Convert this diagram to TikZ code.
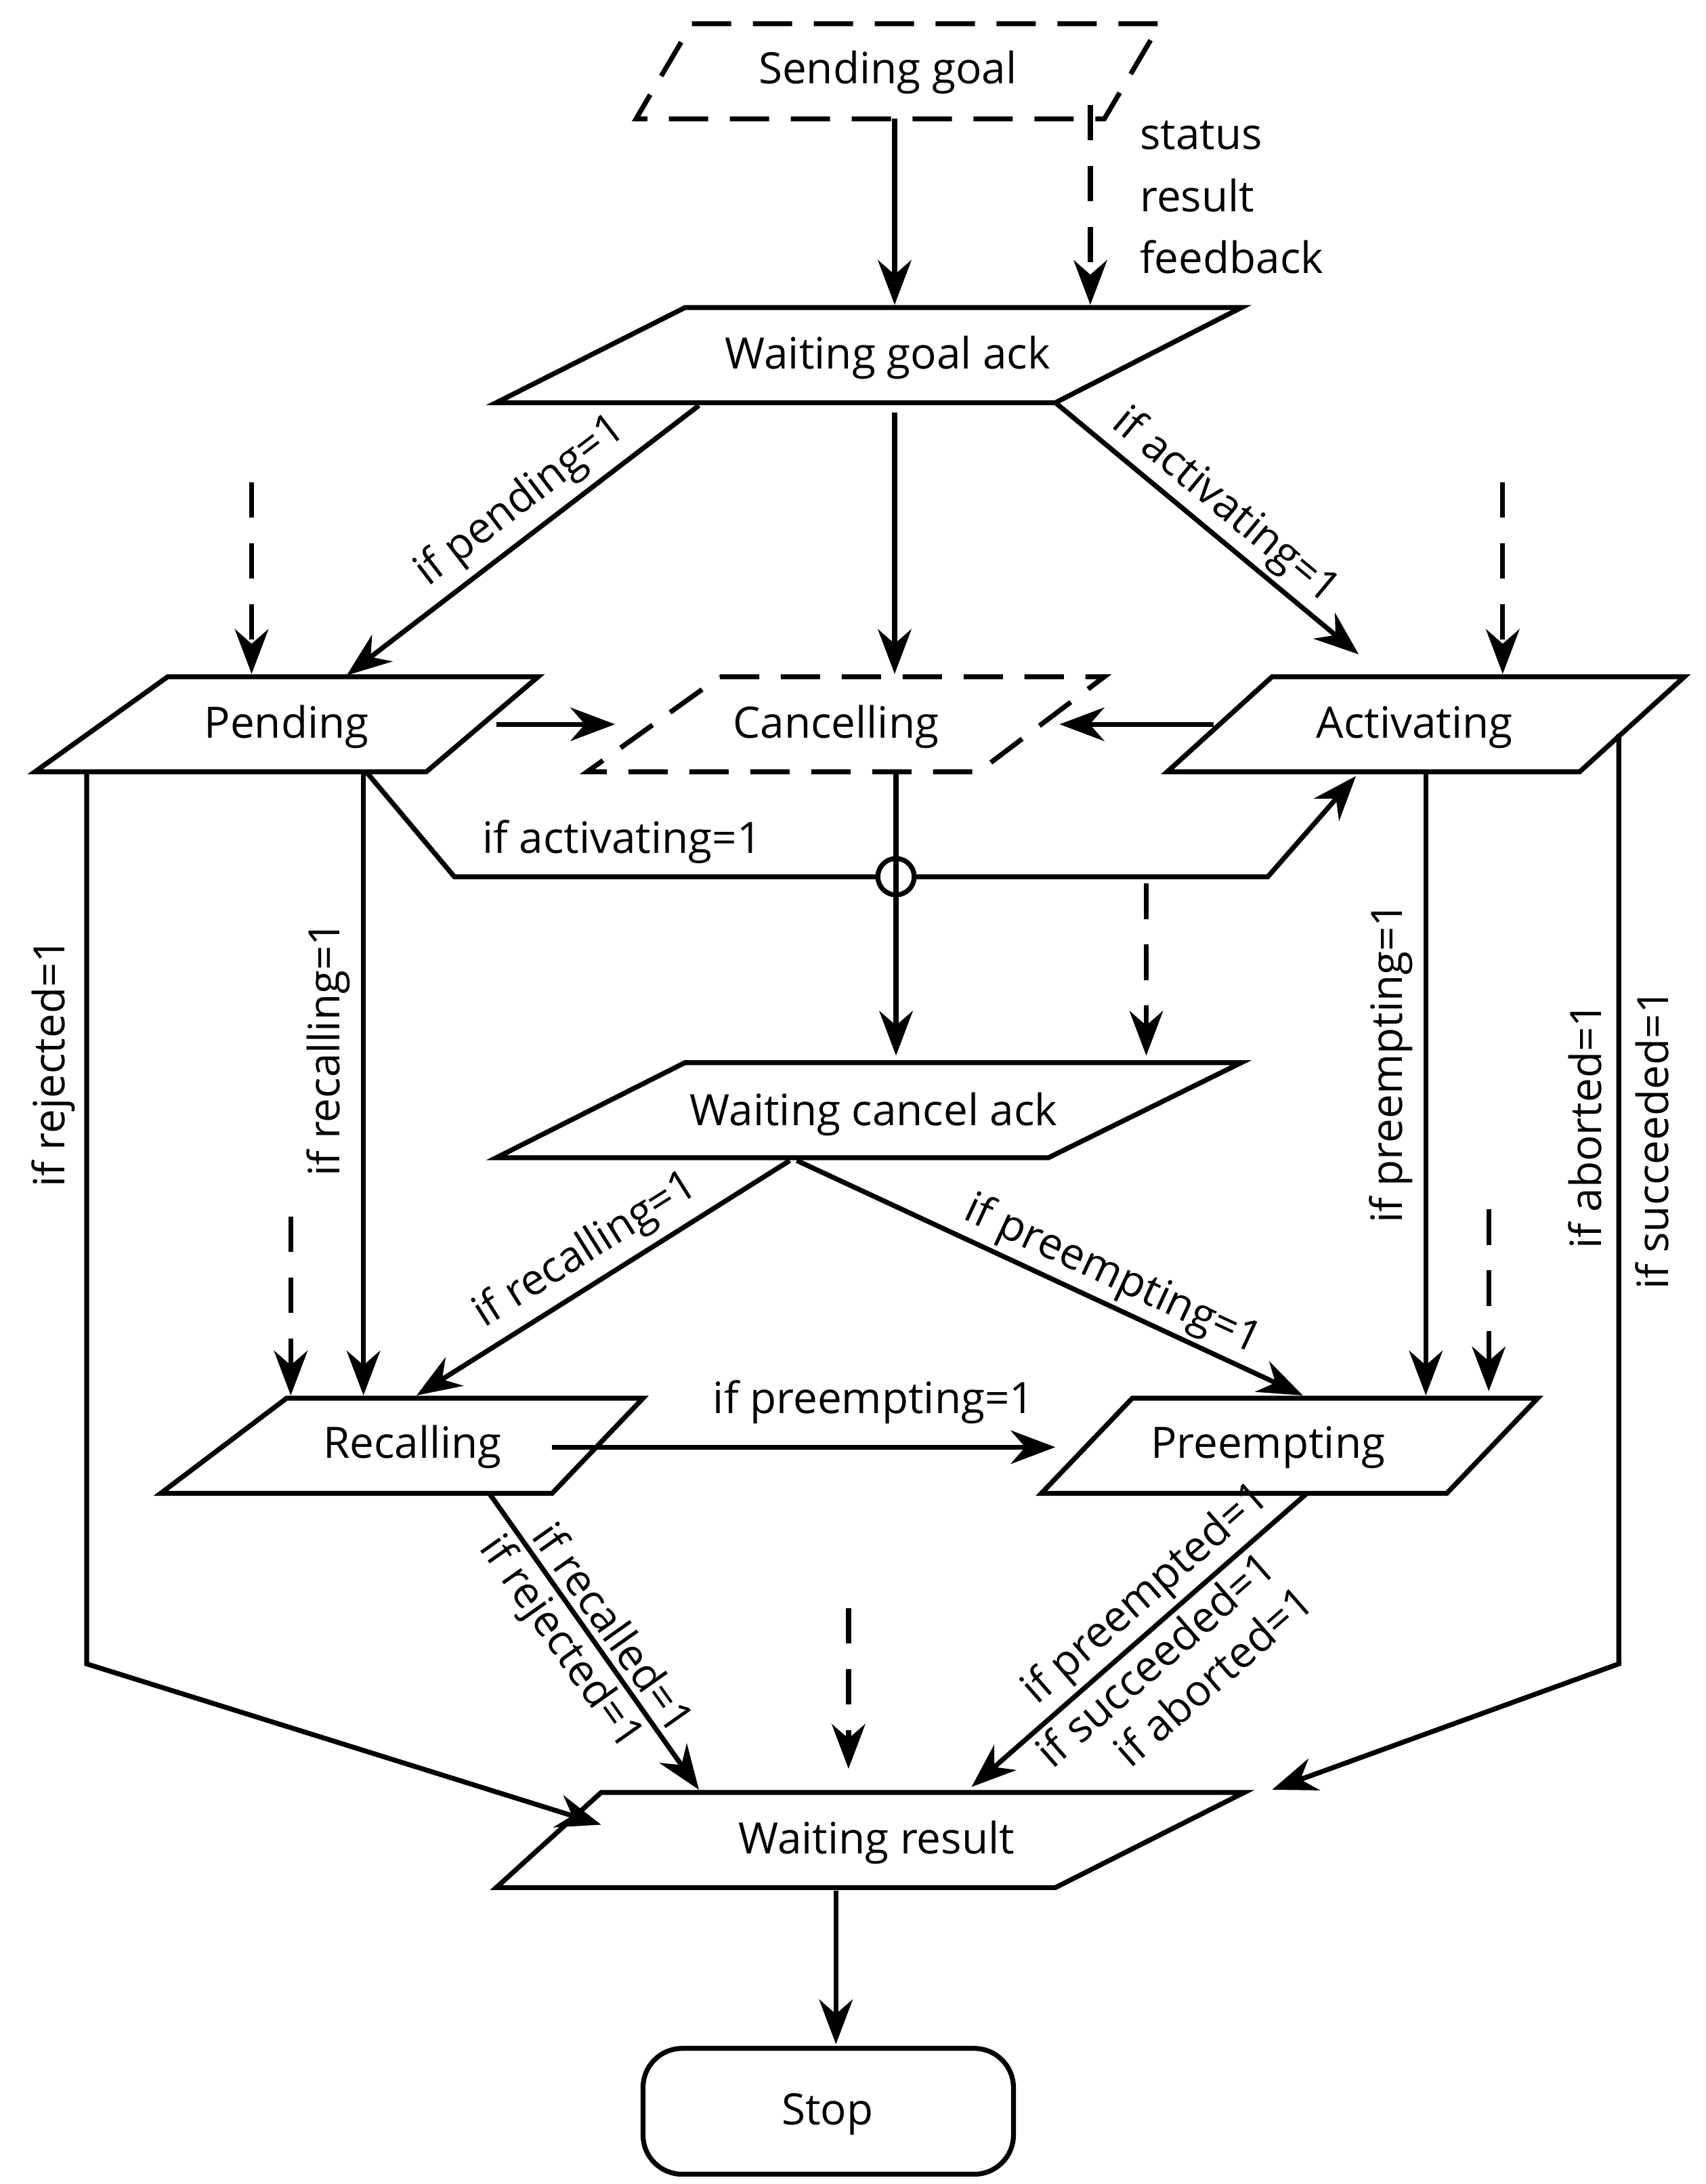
\documentclass[tikz,border=0pt]{standalone}
\usepackage{fontspec}
\setmainfont{Open Sans}
\usetikzlibrary{arrows.meta}
\begin{document}
\begin{tikzpicture}[x=0.05cm,y=-0.05cm,
  every node/.style={font=\fontsize{44}{52}\selectfont, inner sep=2pt},
  box/.style={line width=5pt, line join=miter},
  dbox/.style={box, dash pattern=on 40pt off 22pt},
  ar/.style={line width=5pt, -{Stealth[length=1.6cm,width=1.2cm]}},
  dar/.style={ar, dash pattern=on 36pt off 26pt},
  lab/.style={sloped, inner sep=8pt},
  vl/.style={rotate=90}]
\useasboundingbox (0,0) rectangle (1220,1562);
% boxes
\draw[dbox] (495,17) -- (830,17) -- (790,85) -- (455,85) -- cycle;
\node (send) at (635,52) {Sending goal};
\draw[box] (490,220) -- (888,220) -- (755,288) -- (355,288) -- cycle;
\node (wga) at (635,256) {Waiting goal ack};
\draw[box] (120,484) -- (385,484) -- (305,552) -- (25,552) -- cycle;
\node (pend) at (205,520) {Pending};
\draw[dbox] (515,484) -- (790,484) -- (700,552) -- (420,552) -- cycle;
\node (canc) at (598,520) {Cancelling};
\draw[box] (910,484) -- (1205,484) -- (1130,552) -- (835,552) -- cycle;
\node (act) at (1012,520) {Activating};
\draw[box] (490,760) -- (888,760) -- (750,828) -- (355,828) -- cycle;
\node (wca) at (625,797) {Waiting cancel ack};
\draw[box] (205,1000) -- (460,1000) -- (395,1068) -- (115,1068) -- cycle;
\node (rec) at (295,1035) {Recalling};
\draw[box] (810,1000) -- (1100,1000) -- (1035,1068) -- (745,1068) -- cycle;
\node (pre) at (907,1035) {Preempting};
\draw[box] (430,1282) -- (890,1282) -- (755,1350) -- (355,1350) -- cycle;
\node (wr) at (627,1318) {Waiting result};
\draw[box, rounded corners=1.4cm] (460,1465) rectangle (725,1555);
\node (stop) at (592,1512) {Stop};
% status labels
\node[anchor=west] at (814,97) {status};
\node[anchor=west] at (814,140) {result};
\node[anchor=west] at (814,184) {feedback};
% arrows
\draw[ar] (640,85) -- (640,218);
\draw[dar] (780,75) -- (780,218);
\draw[ar] (500,290) -- node[lab,above,pos=.45]{if pending=1} (248,483);
\draw[ar] (640,295) -- (640,482);
\draw[ar] (755,288) -- node[lab,above,pos=.5,inner sep=4pt]{if activating=1} (972,468);
\draw[dar] (180,345) -- (180,482);
\draw[dar] (1075,345) -- (1075,482);
\draw[ar] (355,518) -- (440,518);
\draw[ar] (868,518) -- (758,518);
\draw[line width=5pt] (641,627) circle (13);
\draw[ar] (262,552) -- (325,627) -- (628,627) (654,627) -- (907,627) -- (970,555);
\node at (445,602) {if activating=1};
\draw[ar] (641,552) -- (641,755);
\draw[dar] (820,632) -- (820,755);
\draw[ar] (62,552) -- (62,1190) -- (430,1305);
\node[vl] at (38,760) {if rejected=1};
\draw[ar] (260,552) -- (260,998);
\node[vl] at (235,750) {if recalling=1};
\draw[dar] (208,870) -- (208,998);
\draw[ar] (565,830) -- node[lab,above,pos=.5]{if recalling=1} (298,998);
\draw[ar] (570,830) -- node[lab,above,pos=.6,inner sep=4pt]{if preempting=1} (932,998);
\draw[ar] (1020,552) -- (1020,998);
\node[vl] at (995,760) {if preempting=1};
\draw[dar] (1065,865) -- (1065,995);
\draw[ar] (1158,525) -- (1158,1190) -- (910,1280);
\node[vl] at (1134,805) {if aborted=1};
\node[vl] at (1182,815) {if succeeded=1};
\draw[ar] (395,1035) -- (755,1035);
\node at (625,1003) {if preempting=1};
\draw[ar] (350,1068) -- node[lab,above,pos=.5,inner sep=6pt]{if recalled=1} node[lab,below,pos=.45,inner sep=5pt]{if rejected=1} (500,1280);
\draw[dar] (607,1150) -- (607,1265);
\draw[ar] (935,1068) -- node[lab,above,pos=.42,inner sep=5pt]{if preempted=1} node[lab,below,pos=.5,inner sep=5pt]{if succeeded=1} node[lab,below,pos=.45,yshift=-54pt,xshift=10pt,inner sep=3pt]{if aborted=1} (695,1278);
\draw[ar] (598,1352) -- (598,1462);
\end{tikzpicture}
\end{document}
